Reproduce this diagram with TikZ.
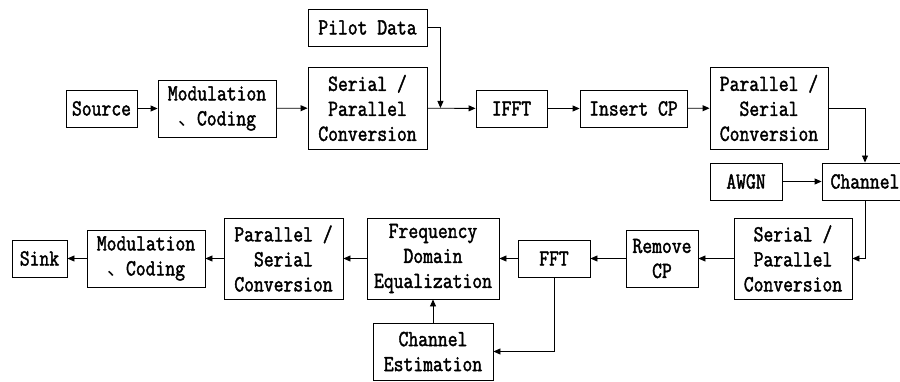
\documentclass[tikz,border=0pt]{standalone}
\usepackage{fontspec}
\setmonofont{Latin Modern Mono}[FakeBold=1.8,FakeStretch=0.83]
\newfontfamily\cjk{Noto Sans CJK SC}
\usetikzlibrary{arrows.meta}
\begin{document}
\begin{tikzpicture}[x=1pt,y=-1pt,
  box/.style={draw,line width=0.9pt,inner sep=0pt,align=center,font=\ttfamily\fontsize{23}{25}\selectfont},
  arr/.style={line width=0.9pt,-{Triangle[length=7pt,width=6pt]}}]
\useasboundingbox (0,0) rectangle (900,382);
\clip (0,0) rectangle (900,382);
% top row
\node[box,minimum width=71,minimum height=37] (source) at (101.5,108.5) {Source};
\node[box,minimum width=118,minimum height=57] (mod1) at (217,108.5) {Modulation\\{\cjk\fontsize{19}{25}\selectfont 、}Coding};
\node[box,minimum width=119,minimum height=82] (sp1) at (367.5,108) {Serial /\\Parallel\\Conversion};
\node[box,minimum width=119,minimum height=37] (pilot) at (367.5,27.5) {Pilot Data};
\node[box,minimum width=71,minimum height=37] (ifft) at (511.5,108.5) {IFFT};
\node[box,minimum width=107,minimum height=37] (icp) at (633.5,108.5) {Insert CP};
\node[box,minimum width=118,minimum height=82] (ps1) at (769,108) {Parallel /\\Serial\\Conversion};
\node[box,minimum width=72,minimum height=37] (awgn) at (746,181.5) {AWGN};
\node[box,minimum width=86,minimum height=37] (channel) at (865,181.5) {Channel};
% bottom row
\node[box,minimum width=118,minimum height=81] (sp2) at (793,258.5) {Serial /\\Parallel\\Conversion};
\node[box,minimum width=72,minimum height=57] (rcp) at (662,258.5) {Remove\\CP};
\node[box,minimum width=72,minimum height=37] (fft) at (554,258.5) {FFT};
\node[box,minimum width=132,minimum height=81] (feq) at (433,258.5) {Frequency\\Domain\\Equalization};
\node[box,minimum width=120,minimum height=57] (ce) at (433,351.5) {Channel\\Estimation};
\node[box,minimum width=119,minimum height=81] (ps2) at (283.5,258.5) {Parallel /\\Serial\\Conversion};
\node[box,minimum width=118,minimum height=57] (mod2) at (146,258.5) {Modulation\\{\cjk\fontsize{19}{25}\selectfont 、}Coding};
\node[box,minimum width=55,minimum height=37] (sink) at (39.5,258.5) {Sink};
% connectors
\coordinate (j) at ([xshift=13pt]sp1.east);
\draw[arr] (source) -- (mod1);
\draw[arr] (mod1) -- (sp1);
\draw[arr] (sp1) -- (ifft);
\draw[arr] (pilot.east) -| (j);
\draw[arr] (ifft) -- (icp);
\draw[arr] (icp) -- (ps1);
\draw[arr] (ps1.east) -| (channel.north);
\draw[arr] (awgn) -- (channel);
\draw[arr] (channel.south) |- (sp2.east);
\draw[arr] (sp2) -- (rcp);
\draw[arr] (rcp) -- (fft);
\draw[arr] (fft) -- (feq);
\draw[arr] (feq) -- (ps2);
\draw[arr] (ps2) -- (mod2);
\draw[arr] (mod2) -- (sink);
\draw[arr] (fft.south) |- (ce.east);
\draw[arr] (ce) -- (feq);
\end{tikzpicture}
\end{document}
